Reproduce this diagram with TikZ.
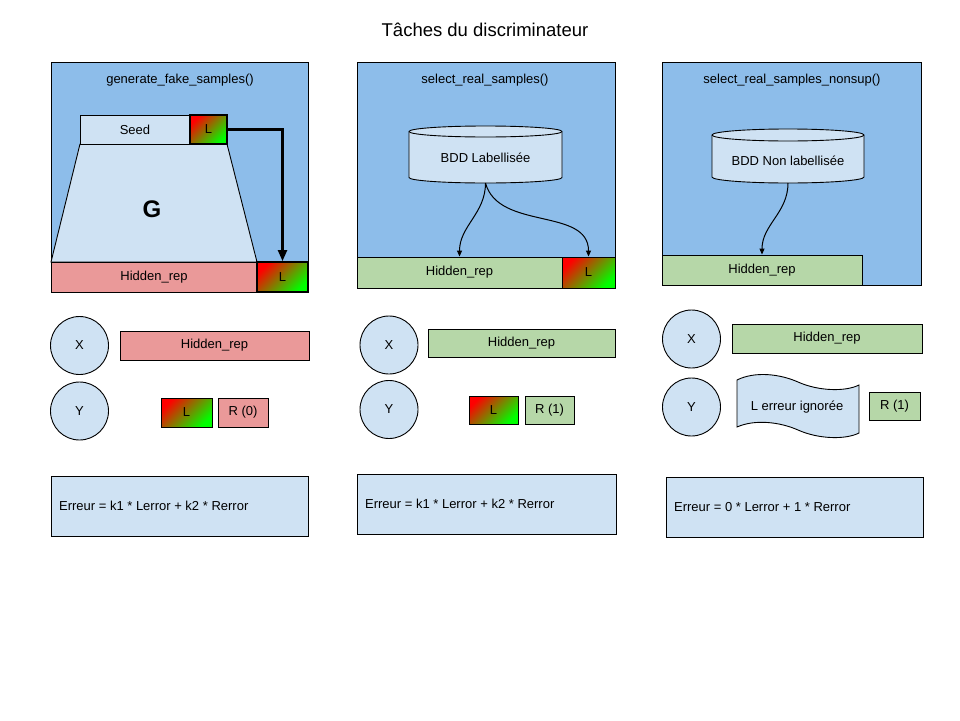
\documentclass[tikz,border=0pt]{standalone}
\usepackage{fontspec}
\setmainfont{Liberation Sans}
\usetikzlibrary{arrows.meta, positioning}
\definecolor{panelblue}{HTML}{8DBDEA}
\definecolor{lightblue}{HTML}{CFE2F3}
\definecolor{pinkrep}{HTML}{EA9999}
\definecolor{greenrep}{HTML}{B6D7A8}
\tikzset{
  panel/.style={draw, fill=panelblue, line width=1pt, inner sep=0pt},
  box/.style={draw, line width=0.9pt, inner sep=0pt},
  lightbox/.style={box, fill=lightblue},
  fakerep/.style={box, fill=pinkrep},
  realrep/.style={box, fill=greenrep},
  labelbox/.style={box, top color=red, bottom color=green, shading angle=45},
  varnode/.style={box, circle, fill=lightblue, minimum size=58pt},
  errbox/.style={box, fill=lightblue, minimum width=257pt, minimum height=60pt},
  feed/.style={-{Triangle[length=6pt,width=5pt]}, line width=1pt},
  copyarrow/.style={-{Triangle[length=11pt,width=9pt]}, line width=2.2pt}
}

\begin{document}
\begin{tikzpicture}[x=1pt, y=-1pt, every node/.style={font=\fontsize{13}{15}\selectfont}]
\path[use as bounding box, fill=white] (0,0) rectangle (960,720);

\node[font=\fontsize{18.5}{22}\selectfont] (title) at (485,30) {Tâches du discriminateur};

\node[panel, minimum width=257pt, minimum height=230pt] (pan1) at (179.5,177) {};
\node[panel, minimum width=258pt, minimum height=226pt] (pan2) at (486,175) {};
\node[panel, minimum width=259pt, minimum height=223pt] (pan3) at (791.5,173.5) {};
\node (name1) at (180,80) {generate\_fake\_samples()};
\node (name2) at (485,80) {select\_real\_samples()};
\node (name3) at (792,80) {select\_real\_samples\_nonsup()};

% generateur
\filldraw[fill=lightblue, line width=0.9pt] (80,144) -- (227,144) -- (257,262) -- (51,262) -- cycle;
\node[lightbox, minimum width=110pt, minimum height=29pt] (seed) at (135,129.5) {Seed};
\node[labelbox, line width=1.8pt, minimum width=37pt, minimum height=29pt] (Lseed) at (208.5,129.5) {L};
\node[font=\bfseries\fontsize{24}{28}\selectfont] (gen) at (152,209) {G};
\node[fakerep, minimum width=206pt, minimum height=30pt] (hid1) at (154,277) {Hidden\_rep};
\node[labelbox, line width=1.8pt, minimum width=51pt, minimum height=30pt] (Lhid1) at (282.5,277) {L};
\draw[copyarrow] (Lseed.east) -| (Lhid1.north);

% bases de donnees
\filldraw[fill=lightblue, line width=0.9pt] (409,131.5) -- (409,177.5)
  arc[start angle=180, end angle=360, x radius=76.5pt, y radius=5.5pt] -- (562,131.5)
  arc[start angle=0, end angle=180, x radius=76.5pt, y radius=5.5pt] -- cycle;
\draw[line width=0.9pt] (409,131.5) arc[start angle=180, end angle=360, x radius=76.5pt, y radius=5.5pt];
\node (bdd2) at (485.5,158) {BDD Labellisée};
\coordinate (bdd2out) at (485.5,183);

\filldraw[fill=lightblue, line width=0.9pt] (712,135) -- (712,177)
  arc[start angle=180, end angle=360, x radius=76pt, y radius=6pt] -- (864,135)
  arc[start angle=0, end angle=180, x radius=76pt, y radius=6pt] -- cycle;
\draw[line width=0.9pt] (712,135) arc[start angle=180, end angle=360, x radius=76pt, y radius=6pt];
\node (bdd3) at (788,161) {BDD Non labellisée};
\coordinate (bdd3out) at (788,183);

\node[realrep, minimum width=205pt, minimum height=31pt] (hid2) at (459.5,272.5) {Hidden\_rep};
\node[labelbox, minimum width=53pt, minimum height=31pt] (L2) at (588.5,272.5) {L};
\node[realrep, minimum width=200pt, minimum height=30pt] (hid3) at (762,270) {Hidden\_rep};
\draw[feed] (bdd2out) to[out=-90, in=90] (hid2.north);
\draw[feed] (bdd2out) to[out=-75, in=90] (L2.north);
\draw[feed] (bdd3out) to[out=-90, in=90] (hid3.north);

% entrees X et Y
\node[varnode] (X1) at (79.5,345.5) {X};
\node[fakerep, minimum width=189pt, minimum height=29pt] (hidX1) at (214.5,345.5) {Hidden\_rep};
\node[varnode] (Y1) at (79.5,411) {Y};
\node[labelbox, minimum width=51pt, minimum height=29pt] (LY1) at (186.5,412.5) {L};
\node[fakerep, minimum width=50pt, minimum height=29pt] (RY1) at (243,412.5) {R (0)};

\node[varnode] (X2) at (389,345) {X};
\node[realrep, minimum width=187pt, minimum height=28pt] (hidX2) at (521.5,343) {Hidden\_rep};
\node[varnode] (Y2) at (389,409.5) {Y};
\node[labelbox, minimum width=49pt, minimum height=28pt] (LY2) at (493.5,410) {L};
\node[realrep, minimum width=49pt, minimum height=28pt] (RY2) at (549.5,410) {R (1)};

\node[varnode] (X3) at (691.5,339) {X};
\node[realrep, minimum width=190pt, minimum height=29pt] (hidX3) at (827,338.5) {Hidden\_rep};
\node[varnode] (Y3) at (691.5,407) {Y};
\filldraw[fill=lightblue, line width=0.9pt] (737,380) .. controls (755,371) and (780,374) .. (798,382)
  .. controls (818,391) and (845,392) .. (859,385) -- (859,433)
  .. controls (845,440) and (818,439) .. (798,430)
  .. controls (780,422) and (755,419) .. (737,427) -- cycle;
\node (LY3) at (797,407) {L erreur ignorée};
\node[realrep, minimum width=51pt, minimum height=28pt] (RY3) at (894.5,406) {R (1)};

% erreurs
\node[errbox] (err1) at (179.5,506) {};
\node[errbox, minimum width=259pt] (err2) at (486.5,504) {};
\node[errbox] (err3) at (794.5,507) {};
\node[right=5pt of err1.west] (errtxt1) {Erreur = k1 * Lerror + k2 * Rerror};
\node[right=5pt of err2.west] (errtxt2) {Erreur = k1 * Lerror + k2 * Rerror};
\node[right=5pt of err3.west] (errtxt3) {Erreur = 0 * Lerror + 1 * Rerror};
\end{tikzpicture}
\end{document}
